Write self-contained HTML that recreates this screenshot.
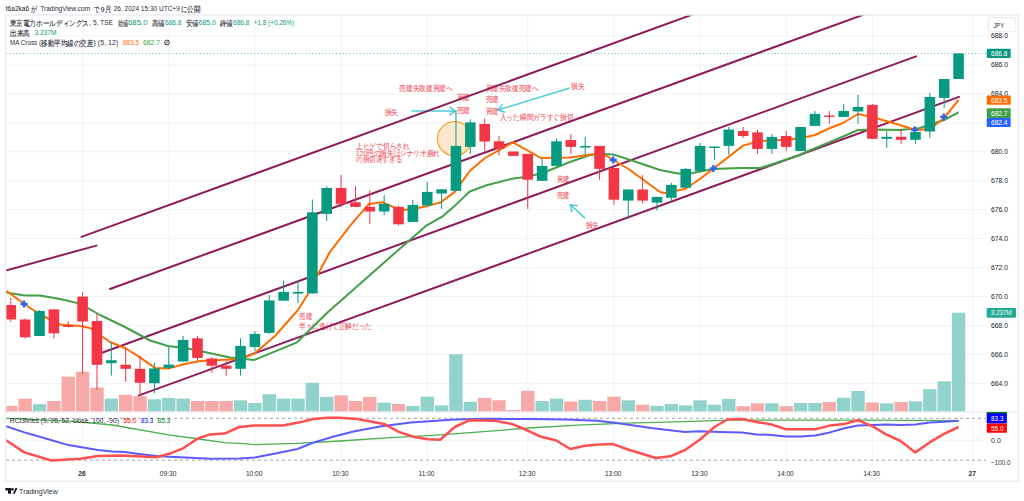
<!DOCTYPE html><html><head><meta charset="utf-8"><style>html,body{margin:0;padding:0;background:#fff;width:1024px;height:501px;overflow:hidden}svg{display:block}text{font-family:"Liberation Sans",sans-serif}</style></head><body>
<svg width="1024" height="501" viewBox="0 0 1024 501">
<rect width="1024" height="501" fill="#fff"/>
<defs><clipPath id="cm"><rect x="6" y="15" width="980" height="396.5"/></clipPath><clipPath id="cr"><rect x="6" y="412" width="980" height="54"/></clipPath></defs>
<g stroke="#f1f2f5" stroke-width="1">
<line x1="6" y1="383.4" x2="986" y2="383.4"/>
<line x1="6" y1="354.4" x2="986" y2="354.4"/>
<line x1="6" y1="325.5" x2="986" y2="325.5"/>
<line x1="6" y1="296.5" x2="986" y2="296.5"/>
<line x1="6" y1="267.6" x2="986" y2="267.6"/>
<line x1="6" y1="238.6" x2="986" y2="238.6"/>
<line x1="6" y1="209.7" x2="986" y2="209.7"/>
<line x1="6" y1="180.7" x2="986" y2="180.7"/>
<line x1="6" y1="151.8" x2="986" y2="151.8"/>
<line x1="6" y1="122.8" x2="986" y2="122.8"/>
<line x1="6" y1="93.9" x2="986" y2="93.9"/>
<line x1="6" y1="64.9" x2="986" y2="64.9"/>
<line x1="6" y1="36.0" x2="986" y2="36.0"/>
<line x1="82.6" y1="15" x2="82.6" y2="466"/>
<line x1="168.8" y1="15" x2="168.8" y2="466"/>
<line x1="254.9" y1="15" x2="254.9" y2="466"/>
<line x1="341.1" y1="15" x2="341.1" y2="466"/>
<line x1="427.2" y1="15" x2="427.2" y2="466"/>
<line x1="527.8" y1="15" x2="527.8" y2="466"/>
<line x1="613.9" y1="15" x2="613.9" y2="466"/>
<line x1="700.1" y1="15" x2="700.1" y2="466"/>
<line x1="786.2" y1="15" x2="786.2" y2="466"/>
<line x1="872.4" y1="15" x2="872.4" y2="466"/>
<line x1="972.9" y1="15" x2="972.9" y2="466"/>
<line x1="6" y1="440.2" x2="986" y2="440.2"/>
</g>
<line x1="6" y1="411.9" x2="1018" y2="411.9" stroke="#e0e3eb" stroke-width="1"/>
<g clip-path="url(#cm)">
<rect x="4.12" y="405.9" width="13.36" height="5.6" fill="#f7a9a7"/>
<rect x="18.48" y="398.6" width="13.36" height="12.9" fill="#f7a9a7"/>
<rect x="32.84" y="404.2" width="13.36" height="7.3" fill="#92d2cc"/>
<rect x="47.20" y="401.0" width="13.36" height="10.5" fill="#f7a9a7"/>
<rect x="61.56" y="376.6" width="13.36" height="34.9" fill="#f7a9a7"/>
<rect x="75.92" y="371.7" width="13.36" height="39.8" fill="#f7a9a7"/>
<rect x="90.28" y="387.6" width="13.36" height="23.9" fill="#f7a9a7"/>
<rect x="104.64" y="398.6" width="13.36" height="12.9" fill="#92d2cc"/>
<rect x="119.00" y="394.9" width="13.36" height="16.6" fill="#f7a9a7"/>
<rect x="133.36" y="396.2" width="13.36" height="15.3" fill="#f7a9a7"/>
<rect x="147.72" y="399.3" width="13.36" height="12.2" fill="#92d2cc"/>
<rect x="162.08" y="397.9" width="13.36" height="13.6" fill="#92d2cc"/>
<rect x="176.44" y="398.6" width="13.36" height="12.9" fill="#92d2cc"/>
<rect x="190.80" y="401.0" width="13.36" height="10.5" fill="#f7a9a7"/>
<rect x="205.16" y="401.0" width="13.36" height="10.5" fill="#f7a9a7"/>
<rect x="219.52" y="401.0" width="13.36" height="10.5" fill="#f7a9a7"/>
<rect x="233.88" y="400.3" width="13.36" height="11.2" fill="#92d2cc"/>
<rect x="248.24" y="403.0" width="13.36" height="8.5" fill="#92d2cc"/>
<rect x="262.60" y="394.2" width="13.36" height="17.3" fill="#92d2cc"/>
<rect x="276.96" y="398.6" width="13.36" height="12.9" fill="#92d2cc"/>
<rect x="291.32" y="398.6" width="13.36" height="12.9" fill="#92d2cc"/>
<rect x="305.68" y="382.7" width="13.36" height="28.8" fill="#92d2cc"/>
<rect x="320.04" y="396.9" width="13.36" height="14.6" fill="#92d2cc"/>
<rect x="334.40" y="395.4" width="13.36" height="16.1" fill="#f7a9a7"/>
<rect x="348.76" y="401.0" width="13.36" height="10.5" fill="#f7a9a7"/>
<rect x="363.12" y="396.9" width="13.36" height="14.6" fill="#f7a9a7"/>
<rect x="377.48" y="402.7" width="13.36" height="8.8" fill="#92d2cc"/>
<rect x="391.84" y="404.0" width="13.36" height="7.5" fill="#f7a9a7"/>
<rect x="406.20" y="405.9" width="13.36" height="5.6" fill="#92d2cc"/>
<rect x="420.56" y="396.6" width="13.36" height="14.9" fill="#92d2cc"/>
<rect x="434.92" y="405.4" width="13.36" height="6.1" fill="#92d2cc"/>
<rect x="449.28" y="354.2" width="13.36" height="57.3" fill="#92d2cc"/>
<rect x="463.64" y="401.8" width="13.36" height="9.7" fill="#92d2cc"/>
<rect x="478.00" y="397.9" width="13.36" height="13.6" fill="#f7a9a7"/>
<rect x="492.36" y="400.3" width="13.36" height="11.2" fill="#f7a9a7"/>
<rect x="506.72" y="410.0" width="13.36" height="1.5" fill="#f7a9a7"/>
<rect x="521.08" y="390.8" width="13.36" height="20.7" fill="#f7a9a7"/>
<rect x="535.44" y="401.0" width="13.36" height="10.5" fill="#92d2cc"/>
<rect x="549.80" y="398.6" width="13.36" height="12.9" fill="#92d2cc"/>
<rect x="564.16" y="401.5" width="13.36" height="10.0" fill="#f7a9a7"/>
<rect x="578.52" y="399.8" width="13.36" height="11.7" fill="#92d2cc"/>
<rect x="592.88" y="401.0" width="13.36" height="10.5" fill="#f7a9a7"/>
<rect x="607.24" y="396.6" width="13.36" height="14.9" fill="#f7a9a7"/>
<rect x="621.60" y="400.3" width="13.36" height="11.2" fill="#92d2cc"/>
<rect x="635.96" y="404.7" width="13.36" height="6.8" fill="#f7a9a7"/>
<rect x="650.32" y="405.9" width="13.36" height="5.6" fill="#92d2cc"/>
<rect x="664.68" y="404.0" width="13.36" height="7.5" fill="#92d2cc"/>
<rect x="679.04" y="405.4" width="13.36" height="6.1" fill="#92d2cc"/>
<rect x="693.40" y="400.3" width="13.36" height="11.2" fill="#92d2cc"/>
<rect x="707.76" y="404.7" width="13.36" height="6.8" fill="#92d2cc"/>
<rect x="722.12" y="398.9" width="13.36" height="12.6" fill="#92d2cc"/>
<rect x="736.48" y="406.2" width="13.36" height="5.3" fill="#f7a9a7"/>
<rect x="750.84" y="403.3" width="13.36" height="8.2" fill="#f7a9a7"/>
<rect x="765.20" y="403.3" width="13.36" height="8.2" fill="#92d2cc"/>
<rect x="779.56" y="406.2" width="13.36" height="5.3" fill="#f7a9a7"/>
<rect x="793.92" y="403.0" width="13.36" height="8.5" fill="#92d2cc"/>
<rect x="808.28" y="403.0" width="13.36" height="8.5" fill="#92d2cc"/>
<rect x="822.64" y="402.0" width="13.36" height="9.5" fill="#f7a9a7"/>
<rect x="837.00" y="397.7" width="13.36" height="13.8" fill="#92d2cc"/>
<rect x="851.36" y="391.0" width="13.36" height="20.5" fill="#92d2cc"/>
<rect x="865.72" y="402.5" width="13.36" height="9.0" fill="#f7a9a7"/>
<rect x="880.08" y="403.3" width="13.36" height="8.2" fill="#92d2cc"/>
<rect x="894.44" y="402.0" width="13.36" height="9.5" fill="#f7a9a7"/>
<rect x="908.80" y="401.3" width="13.36" height="10.2" fill="#92d2cc"/>
<rect x="923.16" y="389.1" width="13.36" height="22.4" fill="#92d2cc"/>
<rect x="937.52" y="381.3" width="13.36" height="30.2" fill="#92d2cc"/>
<rect x="951.88" y="312.7" width="13.36" height="98.8" fill="#92d2cc"/>
<circle cx="454.5" cy="138.7" r="17" fill="#fde5c6" fill-opacity="0.9" stroke="#f9a52a" stroke-width="1.3"/>
<path d="M411.5 110.9L455.4 110.9M449.2 115.1L455.4 110.9L449.2 106.7" fill="none" stroke="#4ccbdf" stroke-width="1.5"/>
<path d="M569.9 88.0L498.0 110.0M502.7 104.1L498.0 110.0L505.2 112.2" fill="none" stroke="#4ccbdf" stroke-width="1.5"/>
<path d="M585.0 218.1L570.3 204.8M577.7 205.8L570.3 204.8L572.0 212.1" fill="none" stroke="#4ccbdf" stroke-width="1.5"/>
<text x="399.2" y="90.7" font-size="8.0" fill="#f25f6a" stroke="#f25f6a" stroke-width="0.12" textLength="53.5" lengthAdjust="spacingAndGlyphs">売建失敗後買建へ</text>
<text x="456.5" y="99.7" font-size="8.0" fill="#f25f6a" stroke="#f25f6a" stroke-width="0.12" textLength="13.5" lengthAdjust="spacingAndGlyphs">買建</text>
<text x="456.5" y="112.5" font-size="8.0" fill="#f25f6a" stroke="#f25f6a" stroke-width="0.12" textLength="13.5" lengthAdjust="spacingAndGlyphs">売建</text>
<text x="384.6" y="114.7" font-size="8.0" fill="#f25f6a" stroke="#f25f6a" stroke-width="0.12" textLength="13.4" lengthAdjust="spacingAndGlyphs">損失</text>
<text x="485.7" y="90.7" font-size="8.0" fill="#f25f6a" stroke="#f25f6a" stroke-width="0.12" textLength="52.8" lengthAdjust="spacingAndGlyphs">買建失敗後売建へ</text>
<text x="485.7" y="102.0" font-size="8.0" fill="#f25f6a" stroke="#f25f6a" stroke-width="0.12" textLength="13.3" lengthAdjust="spacingAndGlyphs">売建</text>
<text x="485.7" y="113.6" font-size="8.0" fill="#f25f6a" stroke="#f25f6a" stroke-width="0.12" textLength="13.3" lengthAdjust="spacingAndGlyphs">買建</text>
<text x="499.8" y="119.9" font-size="8.0" fill="#f25f6a" stroke="#f25f6a" stroke-width="0.12" textLength="73.5" lengthAdjust="spacingAndGlyphs">入った瞬間ガラすぐ損切</text>
<text x="571.0" y="88.5" font-size="8.0" fill="#f25f6a" stroke="#f25f6a" stroke-width="0.12" textLength="13.5" lengthAdjust="spacingAndGlyphs">損失</text>
<text x="356.1" y="149.0" font-size="8.0" fill="#f25f6a" stroke="#f25f6a" stroke-width="0.12" textLength="53.6" lengthAdjust="spacingAndGlyphs">上ヒゲで切らされ</text>
<text x="356.1" y="155.9" font-size="8.0" fill="#f25f6a" stroke="#f25f6a" stroke-width="0.12" textLength="83.7" lengthAdjust="spacingAndGlyphs">120円の損失はシナリオ崩れ</text>
<text x="356.1" y="161.7" font-size="8.0" fill="#f25f6a" stroke="#f25f6a" stroke-width="0.12" textLength="46.1" lengthAdjust="spacingAndGlyphs">の損切遅すぎる</text>
<text x="557.0" y="182.2" font-size="8.0" fill="#f25f6a" stroke="#f25f6a" stroke-width="0.12" textLength="12.6" lengthAdjust="spacingAndGlyphs">買建</text>
<text x="557.0" y="197.5" font-size="8.0" fill="#f25f6a" stroke="#f25f6a" stroke-width="0.12" textLength="12.6" lengthAdjust="spacingAndGlyphs">売建</text>
<text x="585.7" y="227.6" font-size="8.0" fill="#f25f6a" stroke="#f25f6a" stroke-width="0.12" textLength="13.3" lengthAdjust="spacingAndGlyphs">損失</text>
<text x="299.0" y="318.9" font-size="8.0" fill="#f25f6a" stroke="#f25f6a" stroke-width="0.12" textLength="13.0" lengthAdjust="spacingAndGlyphs">売建</text>
<text x="299.0" y="329.2" font-size="8.0" fill="#f25f6a" stroke="#f25f6a" stroke-width="0.12" textLength="73.0" lengthAdjust="spacingAndGlyphs">早々に逃げて正解だった</text>
<line x1="5.7" y1="270.5" x2="96.4" y2="245.6" stroke="#8e1b5a" stroke-width="2.0" stroke-linecap="round"/>
<line x1="81.5" y1="236.9" x2="700.0" y2="11.8" stroke="#8e1b5a" stroke-width="2.0" stroke-linecap="round"/>
<line x1="110.0" y1="289.0" x2="870.0" y2="12.3" stroke="#8e1b5a" stroke-width="2.0" stroke-linecap="round"/>
<line x1="102.0" y1="352.7" x2="916.0" y2="56.4" stroke="#8e1b5a" stroke-width="2.0" stroke-linecap="round"/>
<line x1="139.0" y1="395.4" x2="959.0" y2="96.9" stroke="#8e1b5a" stroke-width="2.0" stroke-linecap="round"/>
<polyline points="6.0,292.6 25.0,295.6 40.0,295.6 60.0,299.0 80.0,303.6 100.0,315.0 125.0,327.0 150.0,340.5 168.0,346.0 185.0,348.0 200.0,351.0 230.0,357.5 254.5,359.9 297.0,342.3 328.0,312.0 353.0,290.0 387.0,260.0 425.8,225.9 441.8,216.9 455.7,204.9 469.7,191.5 485.7,185.5 513.6,178.4 529.6,176.4 545.0,172.0 570.0,162.0 590.0,155.0 605.0,154.0 613.0,154.4 632.0,160.5 660.0,170.0 678.0,173.5 690.0,173.5 713.0,169.0 740.0,168.0 760.0,168.0 770.0,165.0 800.0,155.0 806.0,152.0 835.0,140.0 858.0,130.0 872.0,129.6 900.0,130.0 920.0,128.0 944.0,120.0 958.6,112.4" fill="none" stroke="#43a047" stroke-width="2" stroke-linejoin="round"/>
<polyline points="6.0,290.6 30.0,308.0 45.0,317.0 60.0,324.4 80.0,326.0 90.0,328.0 110.0,342.0 125.0,348.0 140.0,357.4 155.0,368.0 168.0,368.6 185.0,364.0 200.0,361.0 240.0,359.0 254.0,353.9 275.0,336.0 298.0,310.0 308.0,294.0 318.0,274.0 330.0,251.8 350.0,225.9 368.9,203.9 382.9,202.3 393.9,207.3 403.9,209.9 417.8,207.9 427.8,205.9 440.8,202.3 454.8,191.9 469.7,171.0 485.0,158.0 513.0,142.3 541.0,158.0 570.0,157.5 595.0,154.0 605.0,155.0 630.0,170.0 660.0,192.0 665.0,193.0 685.0,189.0 700.0,179.0 713.0,169.0 743.0,145.6 760.0,141.0 790.0,139.6 806.0,137.0 815.0,135.0 830.0,128.0 843.0,123.0 858.0,114.0 872.0,117.0 900.0,125.0 915.0,130.0 930.0,129.0 944.0,118.0 958.6,100.0" fill="none" stroke="#ff6d00" stroke-width="2" stroke-linejoin="round"/>
<path d="M20.5 304.0h7M24.0 300.5v7" stroke="#2962ff" stroke-width="2.4"/>
<path d="M609.7 160.0h7M613.2 156.5v7" stroke="#2962ff" stroke-width="2.4"/>
<path d="M709.9 168.5h7M713.4 165.0v7" stroke="#2962ff" stroke-width="2.4"/>
<path d="M911.2 129.9h7M914.7 126.4v7" stroke="#2962ff" stroke-width="2.4"/>
<path d="M940.2 116.9h7M943.7 113.4v7" stroke="#2962ff" stroke-width="2.4"/>
<line x1="6" y1="53.5" x2="986" y2="53.5" stroke="#089981" stroke-opacity="0.55" stroke-width="1" stroke-dasharray="1.2,2.2"/>
<line x1="10.80" y1="298.0" x2="10.80" y2="322.0" stroke="#f23645" stroke-width="1"/>
<rect x="5.50" y="305.0" width="10.6" height="14.5" fill="#f23645"/>
<line x1="25.16" y1="318.5" x2="25.16" y2="338.5" stroke="#f23645" stroke-width="1"/>
<rect x="19.86" y="319.5" width="10.6" height="17.8" fill="#f23645"/>
<line x1="39.52" y1="310.0" x2="39.52" y2="336.0" stroke="#089981" stroke-width="1"/>
<rect x="34.22" y="311.0" width="10.6" height="25.0" fill="#089981"/>
<line x1="53.88" y1="309.0" x2="53.88" y2="338.5" stroke="#f23645" stroke-width="1"/>
<rect x="48.58" y="309.4" width="10.6" height="23.9" fill="#f23645"/>
<line x1="68.24" y1="321.3" x2="68.24" y2="327.3" stroke="#f23645" stroke-width="1"/>
<rect x="62.94" y="325.5" width="10.6" height="1.5" fill="#f23645"/>
<line x1="82.60" y1="292.0" x2="82.60" y2="374.0" stroke="#f23645" stroke-width="1"/>
<rect x="77.30" y="296.6" width="10.6" height="24.9" fill="#f23645"/>
<line x1="96.96" y1="314.0" x2="96.96" y2="390.0" stroke="#f23645" stroke-width="1"/>
<rect x="91.66" y="321.0" width="10.6" height="43.8" fill="#f23645"/>
<line x1="111.32" y1="342.0" x2="111.32" y2="375.6" stroke="#089981" stroke-width="1"/>
<rect x="106.02" y="360.2" width="10.6" height="3.0" fill="#089981"/>
<line x1="125.68" y1="347.5" x2="125.68" y2="381.8" stroke="#f23645" stroke-width="1"/>
<rect x="120.38" y="364.8" width="10.6" height="4.0" fill="#f23645"/>
<line x1="140.04" y1="355.9" x2="140.04" y2="395.7" stroke="#f23645" stroke-width="1"/>
<rect x="134.74" y="368.8" width="10.6" height="14.0" fill="#f23645"/>
<line x1="154.40" y1="362.8" x2="154.40" y2="393.2" stroke="#089981" stroke-width="1"/>
<rect x="149.10" y="368.4" width="10.6" height="14.8" fill="#089981"/>
<line x1="168.76" y1="346.9" x2="168.76" y2="369.0" stroke="#089981" stroke-width="1"/>
<rect x="163.46" y="364.6" width="10.6" height="3.2" fill="#089981"/>
<line x1="183.12" y1="335.9" x2="183.12" y2="361.5" stroke="#089981" stroke-width="1"/>
<rect x="177.82" y="339.9" width="10.6" height="21.6" fill="#089981"/>
<line x1="197.48" y1="336.0" x2="197.48" y2="360.9" stroke="#f23645" stroke-width="1"/>
<rect x="192.18" y="338.3" width="10.6" height="19.6" fill="#f23645"/>
<line x1="211.84" y1="357.0" x2="211.84" y2="372.8" stroke="#f23645" stroke-width="1"/>
<rect x="206.54" y="358.5" width="10.6" height="7.2" fill="#f23645"/>
<line x1="226.20" y1="360.9" x2="226.20" y2="375.6" stroke="#f23645" stroke-width="1"/>
<rect x="220.90" y="365.7" width="10.6" height="3.1" fill="#f23645"/>
<line x1="240.56" y1="338.3" x2="240.56" y2="375.6" stroke="#089981" stroke-width="1"/>
<rect x="235.26" y="345.9" width="10.6" height="22.9" fill="#089981"/>
<line x1="254.92" y1="331.0" x2="254.92" y2="350.9" stroke="#089981" stroke-width="1"/>
<rect x="249.62" y="333.9" width="10.6" height="13.0" fill="#089981"/>
<line x1="269.28" y1="294.9" x2="269.28" y2="333.9" stroke="#089981" stroke-width="1"/>
<rect x="263.98" y="300.4" width="10.6" height="32.5" fill="#089981"/>
<line x1="283.64" y1="280.5" x2="283.64" y2="300.7" stroke="#089981" stroke-width="1"/>
<rect x="278.34" y="291.9" width="10.6" height="8.8" fill="#089981"/>
<line x1="298.00" y1="280.5" x2="298.00" y2="303.4" stroke="#089981" stroke-width="1"/>
<rect x="292.70" y="291.9" width="10.6" height="1.7" fill="#089981"/>
<line x1="312.36" y1="199.5" x2="312.36" y2="293.4" stroke="#089981" stroke-width="1"/>
<rect x="307.06" y="212.3" width="10.6" height="81.1" fill="#089981"/>
<line x1="326.72" y1="186.0" x2="326.72" y2="220.9" stroke="#089981" stroke-width="1"/>
<rect x="321.42" y="188.0" width="10.6" height="25.9" fill="#089981"/>
<line x1="341.08" y1="175.0" x2="341.08" y2="206.9" stroke="#f23645" stroke-width="1"/>
<rect x="335.78" y="188.0" width="10.6" height="15.9" fill="#f23645"/>
<line x1="355.44" y1="186.0" x2="355.44" y2="206.9" stroke="#f23645" stroke-width="1"/>
<rect x="350.14" y="202.3" width="10.6" height="4.6" fill="#f23645"/>
<line x1="369.80" y1="190.3" x2="369.80" y2="223.9" stroke="#f23645" stroke-width="1"/>
<rect x="364.50" y="206.9" width="10.6" height="4.6" fill="#f23645"/>
<line x1="384.16" y1="194.9" x2="384.16" y2="214.9" stroke="#089981" stroke-width="1"/>
<rect x="378.86" y="203.9" width="10.6" height="7.6" fill="#089981"/>
<line x1="398.52" y1="205.5" x2="398.52" y2="225.5" stroke="#f23645" stroke-width="1"/>
<rect x="393.22" y="206.9" width="10.6" height="17.4" fill="#f23645"/>
<line x1="412.88" y1="199.9" x2="412.88" y2="222.0" stroke="#089981" stroke-width="1"/>
<rect x="407.58" y="204.9" width="10.6" height="17.0" fill="#089981"/>
<line x1="427.24" y1="182.0" x2="427.24" y2="206.9" stroke="#089981" stroke-width="1"/>
<rect x="421.94" y="191.9" width="10.6" height="13.6" fill="#089981"/>
<line x1="441.60" y1="189.3" x2="441.60" y2="208.9" stroke="#089981" stroke-width="1"/>
<rect x="436.30" y="189.3" width="10.6" height="4.2" fill="#089981"/>
<line x1="455.96" y1="111.0" x2="455.96" y2="190.9" stroke="#089981" stroke-width="1"/>
<rect x="450.66" y="145.9" width="10.6" height="45.0" fill="#089981"/>
<line x1="470.32" y1="119.4" x2="470.32" y2="153.9" stroke="#089981" stroke-width="1"/>
<rect x="465.02" y="122.4" width="10.6" height="24.5" fill="#089981"/>
<line x1="484.68" y1="118.4" x2="484.68" y2="150.9" stroke="#f23645" stroke-width="1"/>
<rect x="479.38" y="124.0" width="10.6" height="17.5" fill="#f23645"/>
<line x1="499.04" y1="135.9" x2="499.04" y2="155.5" stroke="#f23645" stroke-width="1"/>
<rect x="493.74" y="141.3" width="10.6" height="7.2" fill="#f23645"/>
<line x1="513.40" y1="151.5" x2="513.40" y2="155.9" stroke="#f23645" stroke-width="1"/>
<rect x="508.10" y="151.5" width="10.6" height="4.4" fill="#f23645"/>
<line x1="527.76" y1="153.9" x2="527.76" y2="209.0" stroke="#f23645" stroke-width="1"/>
<rect x="522.46" y="153.9" width="10.6" height="25.8" fill="#f23645"/>
<line x1="542.12" y1="158.9" x2="542.12" y2="181.0" stroke="#089981" stroke-width="1"/>
<rect x="536.82" y="165.9" width="10.6" height="14.9" fill="#089981"/>
<line x1="556.48" y1="138.3" x2="556.48" y2="166.0" stroke="#089981" stroke-width="1"/>
<rect x="551.18" y="141.3" width="10.6" height="24.6" fill="#089981"/>
<line x1="570.84" y1="134.0" x2="570.84" y2="153.9" stroke="#f23645" stroke-width="1"/>
<rect x="565.54" y="140.0" width="10.6" height="6.9" fill="#f23645"/>
<line x1="585.20" y1="136.9" x2="585.20" y2="154.9" stroke="#089981" stroke-width="1"/>
<rect x="579.90" y="146.0" width="10.6" height="1.5" fill="#089981"/>
<line x1="599.56" y1="145.9" x2="599.56" y2="179.7" stroke="#f23645" stroke-width="1"/>
<rect x="594.26" y="145.9" width="10.6" height="23.0" fill="#f23645"/>
<line x1="613.92" y1="167.9" x2="613.92" y2="204.8" stroke="#f23645" stroke-width="1"/>
<rect x="608.62" y="167.9" width="10.6" height="31.8" fill="#f23645"/>
<line x1="628.28" y1="189.5" x2="628.28" y2="218.8" stroke="#089981" stroke-width="1"/>
<rect x="622.98" y="189.5" width="10.6" height="11.1" fill="#089981"/>
<line x1="642.64" y1="175.0" x2="642.64" y2="203.4" stroke="#f23645" stroke-width="1"/>
<rect x="637.34" y="189.5" width="10.6" height="11.1" fill="#f23645"/>
<line x1="657.00" y1="196.9" x2="657.00" y2="210.4" stroke="#089981" stroke-width="1"/>
<rect x="651.70" y="196.9" width="10.6" height="5.7" fill="#089981"/>
<line x1="671.36" y1="182.9" x2="671.36" y2="201.8" stroke="#089981" stroke-width="1"/>
<rect x="666.06" y="184.9" width="10.6" height="12.9" fill="#089981"/>
<line x1="685.72" y1="168.0" x2="685.72" y2="188.0" stroke="#089981" stroke-width="1"/>
<rect x="680.42" y="168.9" width="10.6" height="18.9" fill="#089981"/>
<line x1="700.08" y1="142.9" x2="700.08" y2="171.0" stroke="#089981" stroke-width="1"/>
<rect x="694.78" y="145.9" width="10.6" height="25.0" fill="#089981"/>
<line x1="714.44" y1="146.5" x2="714.44" y2="159.9" stroke="#089981" stroke-width="1"/>
<rect x="709.14" y="146.5" width="10.6" height="1.5" fill="#089981"/>
<line x1="728.80" y1="127.0" x2="728.80" y2="154.9" stroke="#089981" stroke-width="1"/>
<rect x="723.50" y="129.6" width="10.6" height="16.3" fill="#089981"/>
<line x1="743.16" y1="127.0" x2="743.16" y2="138.0" stroke="#f23645" stroke-width="1"/>
<rect x="737.86" y="131.0" width="10.6" height="5.0" fill="#f23645"/>
<line x1="757.52" y1="129.6" x2="757.52" y2="153.9" stroke="#f23645" stroke-width="1"/>
<rect x="752.22" y="132.4" width="10.6" height="16.5" fill="#f23645"/>
<line x1="771.88" y1="134.0" x2="771.88" y2="153.9" stroke="#089981" stroke-width="1"/>
<rect x="766.58" y="136.9" width="10.6" height="12.0" fill="#089981"/>
<line x1="786.24" y1="131.0" x2="786.24" y2="150.9" stroke="#f23645" stroke-width="1"/>
<rect x="780.94" y="136.0" width="10.6" height="10.9" fill="#f23645"/>
<line x1="800.60" y1="127.0" x2="800.60" y2="151.0" stroke="#089981" stroke-width="1"/>
<rect x="795.30" y="127.0" width="10.6" height="23.9" fill="#089981"/>
<line x1="814.96" y1="110.9" x2="814.96" y2="126.0" stroke="#089981" stroke-width="1"/>
<rect x="809.66" y="113.9" width="10.6" height="12.0" fill="#089981"/>
<line x1="829.32" y1="110.9" x2="829.32" y2="123.9" stroke="#f23645" stroke-width="1"/>
<rect x="824.02" y="115.5" width="10.6" height="1.4" fill="#f23645"/>
<line x1="843.68" y1="103.9" x2="843.68" y2="117.0" stroke="#089981" stroke-width="1"/>
<rect x="838.38" y="110.9" width="10.6" height="6.0" fill="#089981"/>
<line x1="858.04" y1="94.9" x2="858.04" y2="123.9" stroke="#089981" stroke-width="1"/>
<rect x="852.74" y="106.9" width="10.6" height="4.6" fill="#089981"/>
<line x1="872.40" y1="103.9" x2="872.40" y2="139.0" stroke="#f23645" stroke-width="1"/>
<rect x="867.10" y="104.9" width="10.6" height="33.9" fill="#f23645"/>
<line x1="886.76" y1="130.9" x2="886.76" y2="147.8" stroke="#089981" stroke-width="1"/>
<rect x="881.46" y="136.8" width="10.6" height="2.0" fill="#089981"/>
<line x1="901.12" y1="128.9" x2="901.12" y2="143.8" stroke="#f23645" stroke-width="1"/>
<rect x="895.82" y="136.8" width="10.6" height="3.0" fill="#f23645"/>
<line x1="915.48" y1="131.9" x2="915.48" y2="143.8" stroke="#089981" stroke-width="1"/>
<rect x="910.18" y="131.9" width="10.6" height="7.9" fill="#089981"/>
<line x1="929.84" y1="92.9" x2="929.84" y2="137.8" stroke="#089981" stroke-width="1"/>
<rect x="924.54" y="96.9" width="10.6" height="34.6" fill="#089981"/>
<line x1="944.20" y1="79.0" x2="944.20" y2="107.9" stroke="#089981" stroke-width="1"/>
<rect x="938.90" y="79.0" width="10.6" height="18.9" fill="#089981"/>
<line x1="958.56" y1="53.4" x2="958.56" y2="79.0" stroke="#089981" stroke-width="1"/>
<rect x="953.26" y="53.4" width="10.6" height="25.6" fill="#089981"/>
</g>
<g clip-path="url(#cr)">
<line x1="6" y1="418.3" x2="986" y2="418.3" stroke="#a3a6af" stroke-width="1" stroke-dasharray="3,3"/>
<line x1="6" y1="460.2" x2="986" y2="460.2" stroke="#a3a6af" stroke-width="1" stroke-dasharray="3,3"/>
<polyline points="6.0,418.3 36.6,419.7 73.2,421.4 112.3,425.0 168.5,434.9 195.3,438.5 224.6,442.7 240.0,443.4 254.6,444.6 296.2,443.4 340.0,441.0 386.5,437.8 440.2,434.9 490.0,431.2 528.8,428.0 577.7,425.1 626.5,423.1 675.3,421.9 730.0,420.2 768.8,420.2 866.5,420.2 958.6,420.7" fill="none" stroke="#4caf50" stroke-width="1.3" stroke-linejoin="round"/>
<polyline points="6.0,426.3 24.4,432.4 41.5,437.3 68.4,445.1 97.7,450.0 112.3,451.5 124.5,452.0 139.2,453.9 158.7,456.3 185.5,457.6 210.0,458.8 240.0,458.5 254.6,457.6 276.6,453.2 297.4,449.0 313.2,442.7 332.8,436.8 354.7,431.2 381.6,426.3 410.9,422.6 454.8,419.5 490.0,418.8 528.8,419.0 565.4,419.5 597.2,420.7 616.7,423.1 650.9,428.0 685.0,431.9 699.7,431.2 720.0,431.9 742.0,432.4 756.6,434.4 771.3,434.9 785.9,436.6 800.6,436.6 815.2,435.6 829.9,432.4 844.5,428.3 857.9,425.6 872.6,425.1 886.0,424.6 900.7,425.1 915.3,424.6 930.0,422.6 944.6,421.7 958.6,420.7" fill="none" stroke="#5b5bff" stroke-width="2" stroke-linejoin="round"/>
<polyline points="6.0,440.2 24.4,452.4 51.3,460.5 80.6,458.8 97.7,456.1 122.0,455.6 156.3,457.3 170.9,453.2 183.1,448.3 197.8,438.5 210.0,434.4 224.6,433.6 239.3,427.0 254.6,425.6 282.7,425.6 298.6,422.6 313.2,419.0 327.9,417.8 340.1,417.8 357.2,419.0 384.0,423.9 398.7,431.9 413.3,436.8 428.0,439.3 440.2,439.7 454.8,427.0 469.5,420.2 494.6,420.7 511.7,423.9 526.4,430.0 541.0,436.8 555.7,440.2 570.3,449.0 585.0,445.8 599.6,444.6 613.1,444.1 626.5,449.0 655.8,458.0 670.4,456.3 685.1,450.0 699.7,439.7 714.4,427.0 727.3,419.5 742.0,419.0 756.6,421.9 771.3,424.4 785.9,429.2 815.2,429.2 829.9,425.6 844.5,423.9 857.9,420.2 872.6,426.3 886.0,434.4 900.7,441.0 915.3,452.4 930.0,442.2 944.6,433.6 958.6,427.0" fill="none" stroke="#ff4f4f" stroke-width="2.5" stroke-linejoin="round"/>
</g>
<text x="5.8" y="10.8" font-size="6.5" fill="#131722" textLength="23.3" lengthAdjust="spacingAndGlyphs">t6a2ka6</text>
<text x="30.8" y="11.7" font-size="8.1" fill="#2a2e39" stroke="#2a2e39" stroke-width="0.12" textLength="5.9" lengthAdjust="spacingAndGlyphs">が</text>
<text x="40.2" y="10.8" font-size="6.5" fill="#2a2e39" textLength="50.0" lengthAdjust="spacingAndGlyphs">TradingView.com</text>
<text x="93.7" y="11.7" font-size="8.1" fill="#2a2e39" stroke="#2a2e39" stroke-width="0.12" textLength="5.4" lengthAdjust="spacingAndGlyphs">で</text>
<text x="100.8" y="11.7" font-size="8.1" fill="#2a2e39" stroke="#2a2e39" stroke-width="0.12" textLength="10.3" lengthAdjust="spacingAndGlyphs">9月</text>
<text x="113.7" y="10.8" font-size="6.5" fill="#2a2e39" textLength="66.1" lengthAdjust="spacingAndGlyphs">26, 2024 15:30 UTC+9</text>
<text x="180.9" y="11.7" font-size="8.1" fill="#2a2e39" stroke="#2a2e39" stroke-width="0.12" textLength="19.7" lengthAdjust="spacingAndGlyphs">に公開</text>
<rect x="5.6" y="14.9" width="1012.8" height="466.4" fill="none" stroke="#eceef3" stroke-width="1.6"/>
<text x="9.6" y="26.3" font-size="8.2" fill="#2a2e39" stroke="#2a2e39" stroke-width="0.12" textLength="79.4" lengthAdjust="spacingAndGlyphs">東京電力ホールディングス</text>
<text x="89.5" y="25.3" font-size="6.6" fill="#2a2e39" textLength="23.3" lengthAdjust="spacingAndGlyphs">, 5, TSE</text>
<text x="118.0" y="26.3" font-size="8.2" fill="#2a2e39" stroke="#2a2e39" stroke-width="0.12" textLength="10.0" lengthAdjust="spacingAndGlyphs">始値</text>
<text x="128.0" y="25.3" font-size="6.6" fill="#089981" textLength="19.6" lengthAdjust="spacingAndGlyphs">685.0</text>
<text x="151.7" y="26.3" font-size="8.2" fill="#2a2e39" stroke="#2a2e39" stroke-width="0.12" textLength="13.0" lengthAdjust="spacingAndGlyphs">高値</text>
<text x="165.0" y="25.3" font-size="6.6" fill="#089981" textLength="16.4" lengthAdjust="spacingAndGlyphs">686.8</text>
<text x="185.8" y="26.3" font-size="8.2" fill="#2a2e39" stroke="#2a2e39" stroke-width="0.12" textLength="12.8" lengthAdjust="spacingAndGlyphs">安値</text>
<text x="198.6" y="25.3" font-size="6.6" fill="#089981" textLength="17.2" lengthAdjust="spacingAndGlyphs">685.0</text>
<text x="219.7" y="26.3" font-size="8.2" fill="#2a2e39" stroke="#2a2e39" stroke-width="0.12" textLength="13.3" lengthAdjust="spacingAndGlyphs">終値</text>
<text x="233.0" y="25.3" font-size="6.6" fill="#089981" textLength="16.4" lengthAdjust="spacingAndGlyphs">686.8</text>
<text x="253.8" y="25.3" font-size="6.6" fill="#089981" textLength="40.2" lengthAdjust="spacingAndGlyphs">+1.8 (+0.26%)</text>
<text x="10.0" y="36.1" font-size="8.2" fill="#2a2e39" stroke="#2a2e39" stroke-width="0.12" textLength="20.0" lengthAdjust="spacingAndGlyphs">出来高</text>
<text x="34.4" y="35.1" font-size="6.6" fill="#089981" textLength="22.0" lengthAdjust="spacingAndGlyphs">3.237M</text>
<text x="10.0" y="45.0" font-size="6.6" fill="#2a2e39" textLength="31.0" lengthAdjust="spacingAndGlyphs">MA Cross (</text>
<text x="41.0" y="46.0" font-size="8.2" fill="#2a2e39" stroke="#2a2e39" stroke-width="0.12" textLength="52.5" lengthAdjust="spacingAndGlyphs">移動平均線の交差</text>
<text x="93.5" y="45.0" font-size="6.6" fill="#2a2e39" textLength="24.9" lengthAdjust="spacingAndGlyphs">) (5, 12)</text>
<text x="122.7" y="45.0" font-size="6.6" fill="#ff6d00" textLength="16.5" lengthAdjust="spacingAndGlyphs">683.5</text>
<text x="143.1" y="45.0" font-size="6.6" fill="#43a047" textLength="16.9" lengthAdjust="spacingAndGlyphs">682.7</text>
<circle cx="167" cy="42.5" r="2.4" fill="none" stroke="#131722" stroke-width="0.8"/><line x1="165.3" y1="44.2" x2="168.7" y2="40.8" stroke="#131722" stroke-width="0.8"/>
<text x="9.8" y="422.6" font-size="6.6" fill="#2a2e39" textLength="109.2" lengthAdjust="spacingAndGlyphs">RCI3lines (9, 26, 52, close, 100, -90)</text>
<text x="123.3" y="422.6" font-size="6.6" fill="#ff0000" textLength="13.4" lengthAdjust="spacingAndGlyphs">55.0</text>
<text x="141.0" y="422.6" font-size="6.6" fill="#0000ff" textLength="12.3" lengthAdjust="spacingAndGlyphs">83.3</text>
<text x="157.5" y="422.6" font-size="6.6" fill="#008000" textLength="12.7" lengthAdjust="spacingAndGlyphs">85.3</text>
<text x="991.0" y="385.8" font-size="6.6" fill="#131722" textLength="17.0" lengthAdjust="spacingAndGlyphs">664.0</text>
<text x="991.0" y="356.8" font-size="6.6" fill="#131722" textLength="17.0" lengthAdjust="spacingAndGlyphs">666.0</text>
<text x="991.0" y="327.9" font-size="6.6" fill="#131722" textLength="17.0" lengthAdjust="spacingAndGlyphs">668.0</text>
<text x="991.0" y="298.9" font-size="6.6" fill="#131722" textLength="17.0" lengthAdjust="spacingAndGlyphs">670.0</text>
<text x="991.0" y="270.0" font-size="6.6" fill="#131722" textLength="17.0" lengthAdjust="spacingAndGlyphs">672.0</text>
<text x="991.0" y="241.0" font-size="6.6" fill="#131722" textLength="17.0" lengthAdjust="spacingAndGlyphs">674.0</text>
<text x="991.0" y="212.1" font-size="6.6" fill="#131722" textLength="17.0" lengthAdjust="spacingAndGlyphs">676.0</text>
<text x="991.0" y="183.1" font-size="6.6" fill="#131722" textLength="17.0" lengthAdjust="spacingAndGlyphs">678.0</text>
<text x="991.0" y="154.2" font-size="6.6" fill="#131722" textLength="17.0" lengthAdjust="spacingAndGlyphs">680.0</text>
<text x="991.0" y="96.3" font-size="6.6" fill="#131722" textLength="17.0" lengthAdjust="spacingAndGlyphs">684.0</text>
<text x="991.0" y="67.3" font-size="6.6" fill="#131722" textLength="17.0" lengthAdjust="spacingAndGlyphs">686.0</text>
<text x="991.0" y="38.4" font-size="6.6" fill="#131722" textLength="17.0" lengthAdjust="spacingAndGlyphs">688.0</text>
<text x="991.0" y="442.6" font-size="6.6" fill="#2a2e39" textLength="9.9" lengthAdjust="spacingAndGlyphs">0.0</text>
<text x="991.0" y="465.2" font-size="6.6" fill="#2a2e39" textLength="19.5" lengthAdjust="spacingAndGlyphs">−100.0</text>
<rect x="988.3" y="17.5" width="27.5" height="14.1" rx="2" fill="#fff" stroke="#e0e3eb" stroke-width="0.8"/>
<text x="993.4" y="27.7" font-size="7.2" fill="#2a2e39" textLength="10.7" lengthAdjust="spacingAndGlyphs">JPY</text>
<rect x="986.7" y="48.8" width="24.0" height="9.2" rx="1" fill="#089981"/><text x="991.0" y="55.8" font-size="6.6" fill="#fff" textLength="16.5" lengthAdjust="spacingAndGlyphs">686.8</text>
<rect x="986.7" y="95.5" width="24.0" height="9.3" rx="1" fill="#ff6d00"/><text x="991.0" y="102.6" font-size="6.6" fill="#fff" textLength="16.5" lengthAdjust="spacingAndGlyphs">683.5</text>
<rect x="986.7" y="108.2" width="24.0" height="9.8" rx="1" fill="#43a047"/><text x="991.0" y="115.5" font-size="6.6" fill="#fff" textLength="16.5" lengthAdjust="spacingAndGlyphs">682.7</text>
<rect x="986.7" y="118.0" width="24.0" height="8.9" rx="1" fill="#2962ff"/><text x="991.0" y="124.9" font-size="6.6" fill="#fff" textLength="16.5" lengthAdjust="spacingAndGlyphs">682.4</text>
<rect x="986.7" y="308.0" width="29.3" height="9.7" rx="1" fill="#22ab94"/><text x="991.0" y="315.2" font-size="6.6" fill="#fff" textLength="20.6" lengthAdjust="spacingAndGlyphs">3.237M</text>
<rect x="986.7" y="412" width="20.2" height="2" fill="#008000"/>
<rect x="986.7" y="413.3" width="20.2" height="10.1" rx="1" fill="#0000ff"/><text x="991.0" y="420.8" font-size="6.6" fill="#fff" textLength="12.5" lengthAdjust="spacingAndGlyphs">83.3</text>
<rect x="986.7" y="423.4" width="20.2" height="9.4" rx="1" fill="#ff0000"/><text x="991.0" y="430.5" font-size="6.6" fill="#fff" textLength="12.5" lengthAdjust="spacingAndGlyphs">55.0</text>
<text x="81.9" y="475.6" font-size="6.6" fill="#2a2e39" text-anchor="middle" font-weight="bold">26</text>
<text x="168.1" y="475.6" font-size="6.6" fill="#2a2e39" text-anchor="middle">09:30</text>
<text x="254.2" y="475.6" font-size="6.6" fill="#2a2e39" text-anchor="middle">10:00</text>
<text x="340.4" y="475.6" font-size="6.6" fill="#2a2e39" text-anchor="middle">10:30</text>
<text x="426.5" y="475.6" font-size="6.6" fill="#2a2e39" text-anchor="middle">11:00</text>
<text x="527.1" y="475.6" font-size="6.6" fill="#2a2e39" text-anchor="middle">12:30</text>
<text x="613.2" y="475.6" font-size="6.6" fill="#2a2e39" text-anchor="middle">13:00</text>
<text x="699.4" y="475.6" font-size="6.6" fill="#2a2e39" text-anchor="middle">13:30</text>
<text x="785.5" y="475.6" font-size="6.6" fill="#2a2e39" text-anchor="middle">14:00</text>
<text x="871.7" y="475.6" font-size="6.6" fill="#2a2e39" text-anchor="middle">14:30</text>
<text x="972.2" y="475.6" font-size="6.6" fill="#2a2e39" text-anchor="middle" font-weight="bold">27</text>
<g fill="#131722"><path d="M5.4 487.9h5.6v5.9h-3v-3.2h-2.6z"/><circle cx="12.4" cy="489.3" r="1.35"/><path d="M12.9 493.8l2.6-5.9h1.9l-2.6 5.9z"/></g>
<text x="19.1" y="493.7" font-size="7.2" fill="#2a2e39" textLength="38.7" lengthAdjust="spacingAndGlyphs">TradingView</text>
</svg></body></html>
